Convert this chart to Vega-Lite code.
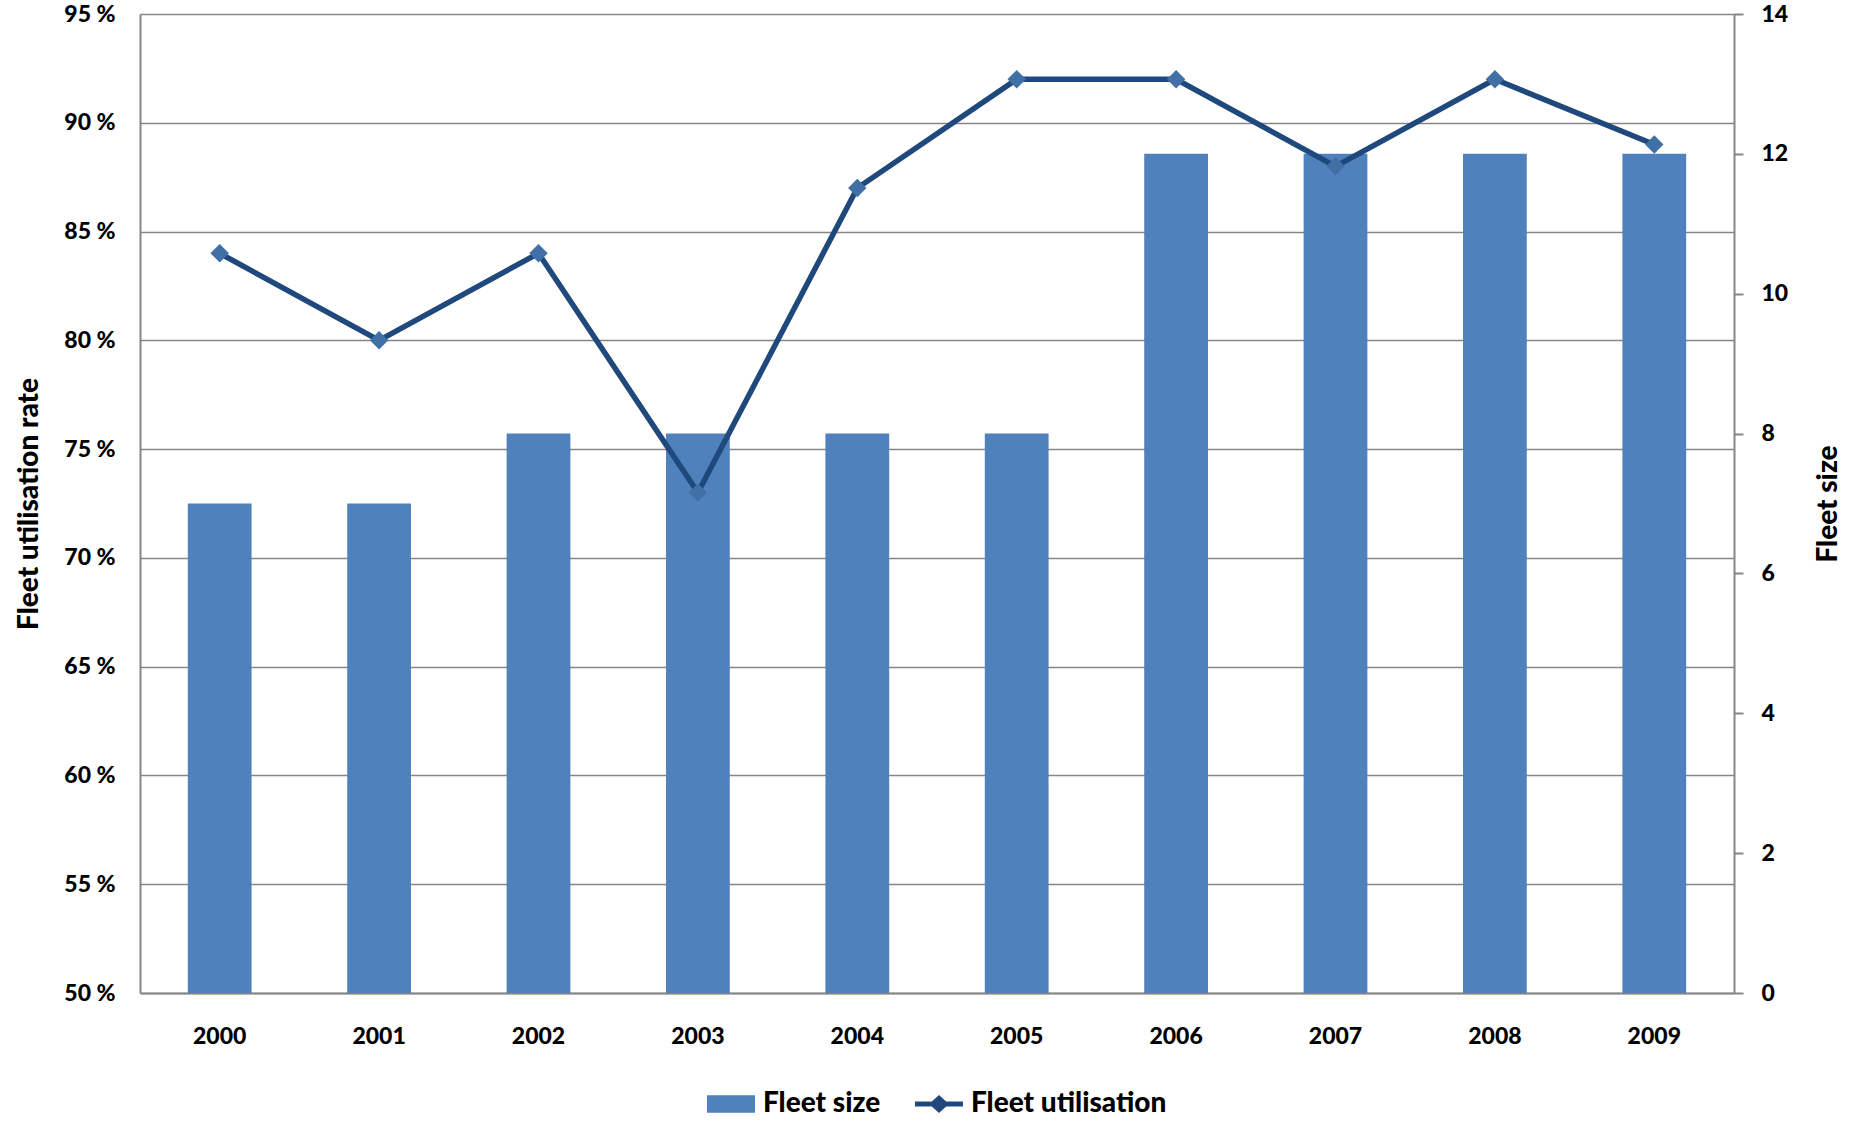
{
  "$schema": "https://vega.github.io/schema/vega-lite/v6.json",
  "width": 1594,
  "height": 979,
  "autosize": {"type": "none"},
  "padding": {"left": 140, "top": 14, "right": 122, "bottom": 128},
  "background": "white",
  "config": {
    "font": "Lato",
    "view": {"stroke": null},
    "axis": {
      "labelFont": "Lato",
      "labelFontWeight": 900,
      "labelFontSize": 23,
      "labelColor": "#000000",
      "titleFont": "Lato",
      "titleFontWeight": 900,
      "titleFontSize": 28,
      "titleColor": "#000000",
      "domainColor": "#868686",
      "domainWidth": 2,
      "tickColor": "#868686",
      "tickWidth": 2,
      "gridColor": "#868686",
      "gridWidth": 1.5
    },
    "legend": {"layout": {"bottom": {"anchor": "middle"}}}
  },
  "data": {
    "values": [
      {"year": "2000", "fleet": 7, "util": 84},
      {"year": "2001", "fleet": 7, "util": 80},
      {"year": "2002", "fleet": 8, "util": 84},
      {"year": "2003", "fleet": 8, "util": 73},
      {"year": "2004", "fleet": 8, "util": 87},
      {"year": "2005", "fleet": 8, "util": 92},
      {"year": "2006", "fleet": 12, "util": 92},
      {"year": "2007", "fleet": 12, "util": 88},
      {"year": "2008", "fleet": 12, "util": 92},
      {"year": "2009", "fleet": 12, "util": 89}
    ]
  },
  "encoding": {
    "x": {
      "field": "year",
      "type": "ordinal",
      "scale": {"paddingInner": 0.6, "paddingOuter": 0.3},
      "axis": {"title": null, "labelAngle": 0, "ticks": false, "labelPadding": 32, "grid": false}
    }
  },
  "layer": [
    {
      "mark": {"type": "bar"},
      "encoding": {
        "y": {
          "field": "fleet",
          "type": "quantitative",
          "scale": {"domain": [0, 14], "nice": false},
          "axis": {
            "orient": "right",
            "title": "Fleet size",
            "titleAngle": 270,
            "titlePadding": 55,
            "values": [0, 2, 4, 6, 8, 10, 12, 14],
            "grid": false,
            "tickSize": 9,
            "labelPadding": 18
          }
        },
        "color": {
          "datum": "Fleet size",
          "type": "nominal",
          "scale": {"domain": ["Fleet size", "Fleet utilisation"], "range": ["#4F81BD", "#1F497D"]},
          "legend": {
            "title": null,
            "orient": "bottom",
            "direction": "horizontal",
            "offset": 32,
            "labelFont": "Lato",
            "labelFontSize": 28,
            "labelFontWeight": 900,
            "labelColor": "#000000",
            "labelLimit": 500,
            "labelOffset": 8,
            "columnPadding": 34,
            "symbolSize": 2304,
            "encode": {
              "symbols": {
                "update": {
                  "shape": {"signal": "datum.value === 'Fleet size' ? 'M-1,-0.36L1,-0.36L1,0.36L-1,0.36Z' : 'M-1,-0.1L-0.3,-0.1L0,-0.38L0.3,-0.1L1,-0.1L1,0.1L0.3,0.1L0,0.38L-0.3,0.1L-1,0.1Z'"},
                  "fill": {"signal": "datum.value === 'Fleet size' ? '#4F81BD' : '#1F497D'"},
                  "stroke": {"value": "transparent"},
                  "strokeWidth": {"value": 0},
                  "opacity": {"value": 1}
                }
              }
            }
          }
        }
      }
    },
    {
      "encoding": {
        "y": {
          "field": "util",
          "type": "quantitative",
          "scale": {"domain": [50, 95], "nice": false, "zero": false},
          "axis": {
            "orient": "left",
            "title": "Fleet utilisation rate",
            "titlePadding": 20,
            "values": [50, 55, 60, 65, 70, 75, 80, 85, 90, 95],
            "labelExpr": "datum.value + ' %'",
            "ticks": false,
            "labelPadding": 25,
            "grid": true
          }
        }
      },
      "layer": [
        {
          "mark": {"type": "line", "strokeWidth": 5.5},
          "encoding": {"color": {"datum": "Fleet utilisation", "type": "nominal"}}
        },
        {
          "mark": {"type": "point", "shape": "diamond", "filled": true, "size": 340, "color": "#4170A6", "opacity": 1}
        }
      ]
    }
  ],
  "resolve": {"scale": {"y": "independent"}}
}
